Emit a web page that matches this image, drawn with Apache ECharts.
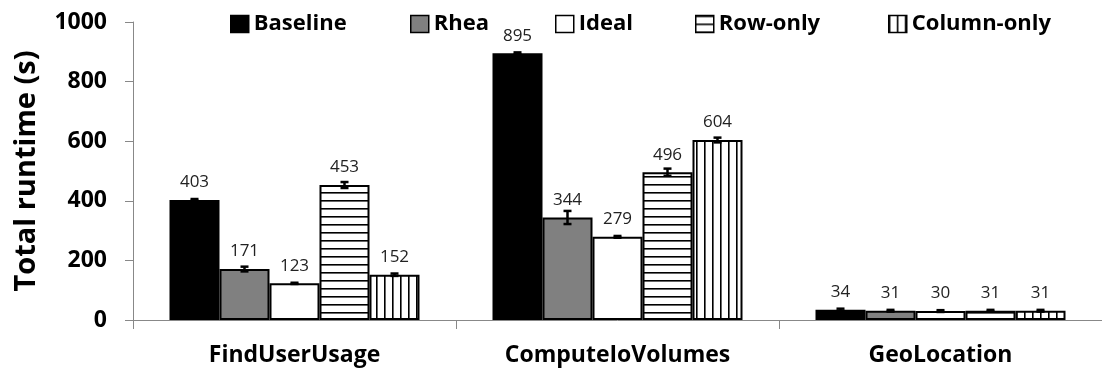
<!DOCTYPE html>
<html><head><meta charset="utf-8">
<script src="https://cdn.jsdelivr.net/npm/echarts@6/dist/echarts.min.js"></script>
<style>html,body{margin:0;padding:0;background:#fff;}#c{width:1102px;height:368px;}</style>
</head><body><div id="c"></div>
<script>
const categories = ['FindUserUsage', 'ComputeIoVolumes', 'GeoLocation'];
const seriesNames = ['Baseline', 'Rhea', 'Ideal', 'Row-only', 'Column-only'];
const baseline = [403, 895, 34];
const rhea = [171, 344, 31];
const ideal = [123, 279, 30];
const rowOnly = [453, 496, 31];
const columnOnly = [152, 604, 31];
const baselineErr = [3, 3, 4];
const rheaErr = [8, 22, 3];
const idealErr = [2, 3, 3];
const rowOnlyErr = [10, 12, 3];
const columnOnlyErr = [4, 8, 3];
const yTicks = [0, 200, 400, 600, 800, 1000];

const values = [baseline, rhea, ideal, rowOnly, columnOnly];
const errs = [baselineErr, rheaErr, idealErr, rowOnlyErr, columnOnlyErr];

function stripes(horizontal) {
  const c = document.createElement('canvas');
  c.width = 8; c.height = 8;
  const g = c.getContext('2d');
  g.fillStyle = '#fff'; g.fillRect(0, 0, 8, 8);
  g.fillStyle = '#000';
  if (horizontal) g.fillRect(0, 0, 8, 1.6); else g.fillRect(0, 0, 1.6, 8);
  return { image: c, repeat: 'repeat' };
}
const fills = ['#000000', '#808080', '#ffffff', stripes(true), stripes(false)];
const BAR_W = 50;

const chart = echarts.init(document.getElementById('c'));
const series = values.map((v, i) => ({
  name: seriesNames[i], type: 'bar', data: v, barWidth: BAR_W, barGap: '0%',
  itemStyle: { color: fills[i], borderColor: '#000', borderWidth: 2 },
  label: { show: true, position: 'top', distance: 9, color: '#222', fontSize: 17, fontFamily: 'Open Sans' },
  animation: false
}));
const errData = [];
values.forEach((v, i) => v.forEach((val, j) => errData.push([j, val, errs[i][j], i])));
series.push({
  type: 'custom', name: 'err', data: errData, z: 10, animation: false, silent: true,
  encode: { x: 0, y: 1 },
  renderItem: function (params, api) {
    const cat = api.value(0), val = api.value(1), e = api.value(2), si = api.value(3);
    const off = (si - 2) * BAR_W;
    const top = api.coord([cat, val + e]);
    const bot = api.coord([cat, val - e]);
    const x = top[0] + off;
    const style = { stroke: '#000', lineWidth: 2.5 };
    return { type: 'group', children: [
      { type: 'line', shape: { x1: x, y1: top[1], x2: x, y2: bot[1] }, style },
      { type: 'line', shape: { x1: x - 4, y1: top[1], x2: x + 4, y2: top[1] }, style },
      { type: 'line', shape: { x1: x - 4, y1: bot[1], x2: x + 4, y2: bot[1] }, style }
    ]};
  }
});

const legendLefts = [225, 405, 550, 690, 883];
const legends = seriesNames.map((n, i) => ({
  data: [{ name: n, icon: 'rect' }], left: legendLefts[i], top: 8, itemWidth: 18, itemHeight: 17, itemGap: 0,
  textStyle: { fontSize: 22, fontWeight: 'bold', fontFamily: 'Open Sans', color: '#000' },
  itemStyle: { borderColor: '#000', borderWidth: 1.5 },
  selectedMode: false
}));

chart.setOption({
  animation: false,
  grid: { left: 133, right: -9, top: 22, bottom: 48 },
  legend: legends,
  xAxis: {
    type: 'category', data: categories,
    axisLine: { lineStyle: { color: '#888', width: 1 } },
    axisTick: { show: true, length: 9, lineStyle: { color: '#888' } },
    axisLabel: { fontSize: 23, fontWeight: 'bold', fontFamily: 'Open Sans', color: '#000', margin: 24 }
  },
  yAxis: {
    type: 'value', min: yTicks[0], max: yTicks[yTicks.length - 1], interval: 200,
    name: 'Total runtime (s)', nameLocation: 'middle', nameGap: 92,
    nameTextStyle: { fontSize: 29, fontWeight: 'bold', fontFamily: 'Open Sans', color: '#000' },
    axisLine: { show: true, lineStyle: { color: '#888', width: 1 } },
    axisTick: { show: true, length: 8, lineStyle: { color: '#888' } },
    splitLine: { show: false },
    axisLabel: { fontSize: 23, fontWeight: 'bold', fontFamily: 'Open Sans', color: '#000', margin: 26,
      formatter: v => String(v) }
  },
  series
});
</script></body></html>
